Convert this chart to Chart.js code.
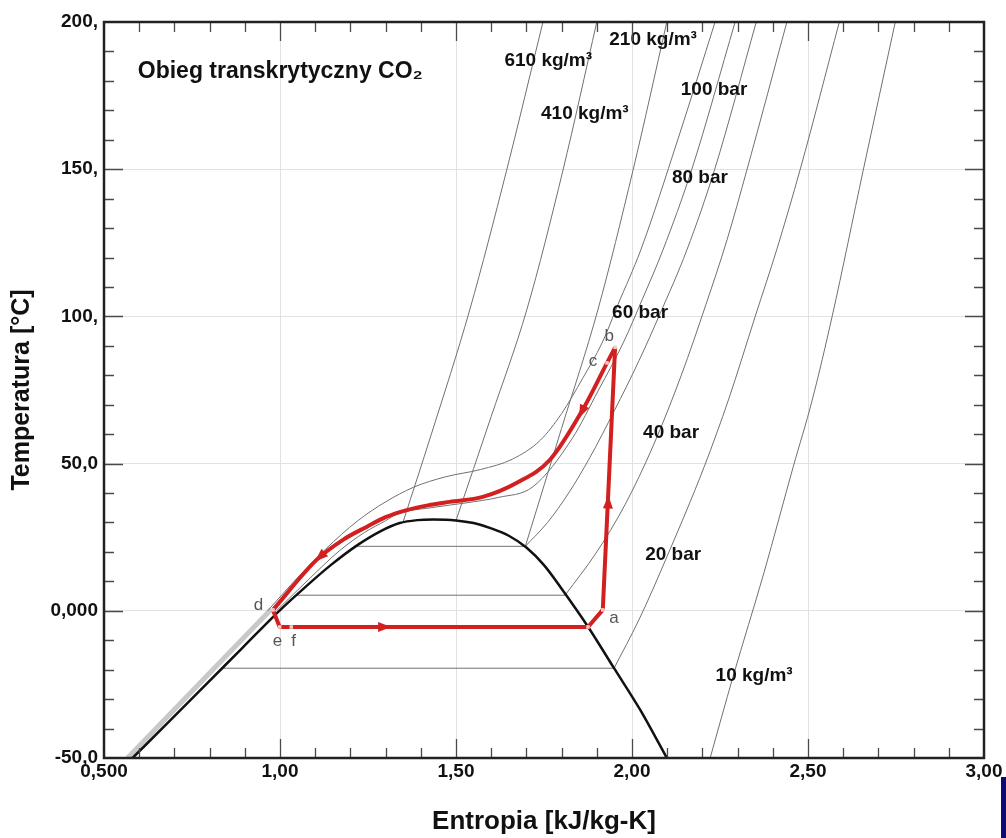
<!DOCTYPE html>
<html>
<head>
<meta charset="utf-8">
<script src="https://cdn.jsdelivr.net/npm/chart.js@4.4.0/dist/chart.umd.min.js"></script>
<style>
	html, body { margin: 0; padding: 0; background: #fff; }
	#wrap { position: relative; width: 1006px; height: 838px; }
	#edge { position: absolute; left: 1001px; top: 777px; width: 5px; height: 61px; background: #0b0b78; }
</style>
</head>
<body>
<div id="wrap">
	<canvas id="tsChart" width="1006" height="838"></canvas>
	<div id="edge"></div>
</div>
<script>
// tick labels
let xTickVals = [0.5, 1.0, 1.5, 2.0, 2.5, 3.0];
let xTickText = ["0,500", "1,00", "1,50", "2,00", "2,50", "3,00"];
let yTickVals = [-50, 0, 50, 100, 150, 200];
let yTickText = ["-50,0", "0,000", "50,0", "100,", "150,", "200,"];

// saturation dome (entropy kJ/kg-K, temperature °C)
let domeS = [0.581, 0.686, 0.79, 0.894, 0.998, 1.075, 1.145, 1.221, 1.285, 1.34, 1.39, 1.435, 1.50, 1.55, 1.60, 1.65, 1.70, 1.75, 1.80, 1.875, 1.949, 2.023, 2.099];
let domeT = [-50, -37.5, -25, -12.5, 0, 8.4, 15.6, 22.4, 27.0, 29.8, 30.8, 31.0, 30.7, 29.8, 28.0, 25.5, 21.5, 15.5, 7.5, -5.4, -19.5, -33.6, -50];

// compressed liquid band
let bandS = [0.567, 0.975];
let bandT = [-50, 0.5];

// isobars: two-phase part (left / right entropy at saturation temperature) + superheated part
let p20Sat = [0.836, 1.949], p20Tsat = -19.5;
let p20S = [1.949, 2.02, 2.099, 2.205, 2.275, 2.35, 2.412, 2.478, 2.589];
let p20T = [-19.5, -3, 18.3, 48.9, 72, 100, 123, 150, 200];

let p40Sat = [1.047, 1.81], p40Tsat = 5.3;
let p40S = [1.81, 1.90, 1.98, 2.06, 2.14, 2.21, 2.27, 2.327, 2.44];
let p40T = [5.3, 20, 36, 56, 80, 104, 126, 150, 200];

let p60Sat = [1.21, 1.697], p60Tsat = 21.9;
let p60S = [1.697, 1.76, 1.82, 1.88, 1.95, 2.02, 2.08, 2.156, 2.235, 2.353];
let p60T = [21.9, 30, 40, 52, 68, 85, 101, 122.6, 150, 200];

let p80S = [0.99, 1.08, 1.17, 1.24, 1.30, 1.332, 1.44, 1.531, 1.62, 1.718, 1.83, 1.905, 1.975, 2.03, 2.088, 2.17, 2.293];
let p80T = [0, 10.5, 20.5, 26.6, 30.6, 32.8, 35.2, 36.7, 38.5, 42.1, 58.5, 75, 91, 106, 122.6, 150, 200];

let p100S = [0.965, 1.04, 1.13, 1.22, 1.30, 1.38, 1.47, 1.57, 1.66, 1.74, 1.80, 1.86, 1.915, 1.96, 2.025, 2.13, 2.236];
let p100T = [0, 10, 21, 30.5, 37, 42, 45.5, 48, 51.5, 58, 67, 79, 91, 104, 122.6, 160, 200];

// isochores
let d610S = [1.35, 1.43, 1.539, 1.644, 1.747];
let d610T = [30.3, 60, 102.2, 149.7, 200];
let d410S = [1.50, 1.60, 1.701, 1.804, 1.900];
let d410T = [30.7, 66, 102.2, 149.7, 200];
let d210S = [1.697, 1.80, 1.903, 2.003, 2.099];
let d210T = [21.9, 62, 102.2, 149.7, 200];
let d10S = [2.222, 2.287, 2.375, 2.458, 2.512, 2.569, 2.657, 2.748];
let d10T = [-50, -22.4, 13, 48.9, 71.6, 100.2, 149.7, 200];

// cycle a-b-c-d-e-f
let compS = [1.917, 1.952];
let compT = [0.3, 89.5];
let coolerS = [0.98, 1.104, 1.18, 1.246, 1.30, 1.36, 1.42, 1.482, 1.576, 1.673, 1.767, 1.860, 1.929, 1.952];
let coolerT = [0.3, 17.3, 24.2, 28.5, 31.8, 34.2, 35.8, 37.0, 38.7, 43.5, 51.3, 68.3, 84.2, 89.5];
let lowS = [0.98, 0.999, 1.032, 1.875, 1.917];
let lowT = [0.3, -5.5, -5.5, -5.5, 0.3];
let markS = [1.917, 1.952, 1.929, 0.98, 0.999, 1.032, 1.875];
let markT = [0.3, 89.5, 84.2, 0.3, -5.5, -5.5, -5.5];

// flow arrows (tail -> tip)
let arrowTail = [[1.135, 20.6], [1.868, 70.3], [1.27, -5.5], [1.930, 31]];
let arrowTip = [[1.104, 17.3], [1.852, 66.2], [1.31, -5.5], [1.933, 38.5]];

// annotations
let lineLabels = ["610 kg/m³", "210 kg/m³", "410 kg/m³", "100 bar", "80 bar", "60 bar", "40 bar", "20 bar", "10 kg/m³"];
let lineLabelS = [1.762, 2.060, 1.866, 2.233, 2.193, 2.023, 2.111, 2.117, 2.347];
let lineLabelT = [186.8, 193.9, 168.8, 176.9, 147.0, 101.2, 60.4, 19.0, -22.1];
let pointLabels = ["a", "b", "c", "d", "e", "f"];
let pointLabelS = [1.949, 1.935, 1.889, 0.939, 0.993, 1.039];
let pointLabelT = [-2.4, 93.4, 84.9, 1.7, -10.5, -10.5];
let chartTitle = "Obieg transkrytyczny CO₂";

const pts = (s, t) => s.map((v, i) => ({ x: v, y: t[i] }));
const flat = (s, t) => s.map((v) => ({ x: v, y: t }));
const FONT = "'Liberation Sans', Arial, sans-serif";

const grayLine = (data) => ({
	data: data,
	showLine: true,
	borderColor: "#707070",
	borderWidth: 1,
	pointRadius: 0,
	cubicInterpolationMode: "monotone",
	order: 5,
});

const redLine = (data, smooth) => ({
	data: data,
	showLine: true,
	borderColor: "#d21f1f",
	borderWidth: 4,
	pointRadius: 0,
	cubicInterpolationMode: smooth ? "monotone" : "default",
	tension: 0,
	borderJoinStyle: "round",
	order: 1,
});

let datasets = [
	{ data: pts(bandS, bandT), showLine: true, borderColor: "#c9c9c9", borderWidth: 5, pointRadius: 0, order: 6 },
	grayLine(flat(p20Sat, p20Tsat)), grayLine(pts(p20S, p20T)),
	grayLine(flat(p40Sat, p40Tsat)), grayLine(pts(p40S, p40T)),
	grayLine(flat(p60Sat, p60Tsat)), grayLine(pts(p60S, p60T)),
	grayLine(pts(p80S, p80T)), grayLine(pts(p100S, p100T)),
	grayLine(pts(d610S, d610T)), grayLine(pts(d410S, d410T)),
	grayLine(pts(d210S, d210T)), grayLine(pts(d10S, d10T)),
	{ data: pts(domeS, domeT), showLine: true, borderColor: "#111", borderWidth: 2.5, pointRadius: 0, cubicInterpolationMode: "monotone", order: 3 },
	redLine(pts(coolerS, coolerT), true),
	redLine(pts(compS, compT), false),
	redLine(pts(lowS, lowT), false),
	{ data: pts(markS, markT), showLine: false, pointStyle: "rect", pointRadius: 2.5, backgroundColor: "#f4c9c9", borderWidth: 0, order: 0 },
];

const findText = (vals, texts, v) => {
	let i = vals.findIndex((t) => Math.abs(t - v) < 1e-6);
	return i < 0 ? "" : texts[i];
};

const decorations = {
	id: "decorations",
	afterDatasetsDraw(chart) {
		const { ctx, scales: { x, y } } = chart;
		ctx.save();
		// arrows
		ctx.fillStyle = "#d21f1f";
		arrowTip.forEach((tip, i) => {
			let tx = x.getPixelForValue(tip[0]), ty = y.getPixelForValue(tip[1]);
			let bx = x.getPixelForValue(arrowTail[i][0]), by = y.getPixelForValue(arrowTail[i][1]);
			let ang = Math.atan2(ty - by, tx - bx);
			ctx.save();
			ctx.translate(tx, ty);
			ctx.rotate(ang);
			ctx.beginPath();
			ctx.moveTo(2, 0);
			ctx.lineTo(-11, -5);
			ctx.lineTo(-11, 5);
			ctx.closePath();
			ctx.fill();
			ctx.restore();
		});
		// line labels
		ctx.fillStyle = "#111";
		ctx.font = "bold 19px " + FONT;
		ctx.textAlign = "center";
		ctx.textBaseline = "middle";
		lineLabels.forEach((txt, i) => {
			ctx.fillText(txt, x.getPixelForValue(lineLabelS[i]), y.getPixelForValue(lineLabelT[i]));
		});
		// point labels
		ctx.fillStyle = "#555";
		ctx.font = "17px " + FONT;
		pointLabels.forEach((txt, i) => {
			ctx.fillText(txt, x.getPixelForValue(pointLabelS[i]), y.getPixelForValue(pointLabelT[i]));
		});
		// title inside plot
		ctx.fillStyle = "#111";
		ctx.font = "bold 23px " + FONT;
		ctx.textAlign = "left";
		ctx.fillText(chartTitle, x.getPixelForValue(0.596), y.getPixelForValue(183));
		ctx.restore();
	},
	afterDraw(chart) {
		const { ctx, chartArea: a, scales: { x, y } } = chart;
		ctx.save();
		ctx.strokeStyle = "#4a4a4a";
		ctx.lineWidth = 1.3;
		ctx.beginPath();
		for (let i = 6; i < 30; i++) {
			let px = Math.round(x.getPixelForValue(i / 10)) + 0.5;
			let len = i % 5 === 0 ? 19 : 10;
			ctx.moveTo(px, a.bottom); ctx.lineTo(px, a.bottom - len);
			ctx.moveTo(px, a.top); ctx.lineTo(px, a.top + len);
		}
		for (let t = -40; t < 200; t += 10) {
			let py = Math.round(y.getPixelForValue(t)) + 0.5;
			let len = t % 50 === 0 ? 19 : 10;
			ctx.moveTo(a.left, py); ctx.lineTo(a.left + len, py);
			ctx.moveTo(a.right, py); ctx.lineTo(a.right - len, py);
		}
		ctx.stroke();
		ctx.strokeStyle = "#222";
		ctx.lineWidth = 2.5;
		ctx.strokeRect(a.left, a.top, a.right - a.left, a.bottom - a.top);
		ctx.restore();
	},
};

let tsChart = new Chart(document.getElementById("tsChart"), {
	type: "scatter",
	data: { datasets: datasets },
	options: {
		responsive: false,
		animation: false,
		devicePixelRatio: 1,
		layout: { padding: { top: 22, right: 22, left: 0, bottom: 0 } },
		plugins: { legend: { display: false }, tooltip: { enabled: false } },
		scales: {
			x: {
				type: "linear",
				min: 0.5,
				max: 3.0,
				afterFit: (scale) => { scale.height = 80; },
				ticks: {
					stepSize: 0.5,
					padding: 2,
					color: "#111",
					font: { family: FONT, size: 19, weight: "bold" },
					callback: (v) => findText(xTickVals, xTickText, v),
				},
				grid: { color: "#e2e2e2", lineWidth: 1, drawTicks: false },
				border: { display: false },
				title: {
					display: true,
					text: "Entropia [kJ/kg-K]",
					color: "#111",
					font: { family: FONT, size: 26, weight: "bold" },
					padding: { top: 0, bottom: 1 },
				},
			},
			y: {
				type: "linear",
				min: -50,
				max: 200,
				afterFit: (scale) => { scale.width = 104; },
				ticks: {
					stepSize: 50,
					padding: 6,
					color: "#111",
					font: { family: FONT, size: 19, weight: "bold" },
					callback: (v) => findText(yTickVals, yTickText, v),
				},
				grid: { color: "#e2e2e2", lineWidth: 1, drawTicks: false },
				border: { display: false },
				title: {
					display: true,
					text: "Temperatura [°C]",
					color: "#111",
					font: { family: FONT, size: 25, weight: "bold" },
					padding: { top: 7, bottom: 0 },
				},
			},
		},
	},
	plugins: [decorations],
});
</script>
</body>
</html>
